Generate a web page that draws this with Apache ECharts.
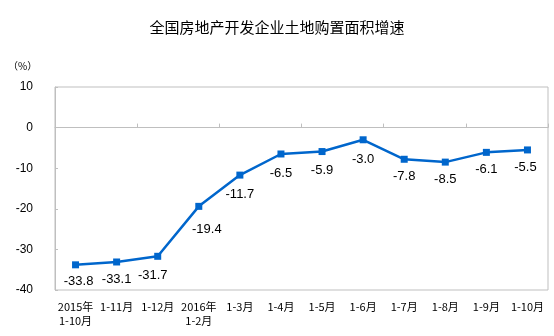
<!DOCTYPE html>
<html>
<head>
<meta charset="utf-8">
<script src="https://cdn.jsdelivr.net/npm/echarts@6/dist/echarts.min.js"></script>
<style>
  html, body { margin: 0; padding: 0; background: #fff; }
  #chart { width: 554px; height: 336px; }
</style>
</head>
<body>
<div id="chart"></div>
<script>
// Periods (cumulative months) and land purchase area growth rate, %
var categories = ['2015年\n1-10月', '1-11月', '1-12月', '2016年\n1-2月', '1-3月', '1-4月',
                  '1-5月', '1-6月', '1-7月', '1-8月', '1-9月', '1-10月'];
var growth = [-33.8, -33.1, -31.7, -19.4, -11.7, -6.5, -5.9, -3.0, -7.8, -8.5, -6.1, -5.5];
var yTicks = { min: -40, max: 10, interval: 10 };

// small nudges [dx, dy] for individual value labels
var labelNudge = [[3, 0], [0, 0], [-5, 2], [8, 6], [0, 2], [0, 2],
                  [0, 2], [0, 3], [0, 0], [0, 0], [0, 0], [-2, 0]];

var chart = echarts.init(document.getElementById('chart'));
var latin = '"Liberation Sans", Arial, "Noto Sans CJK SC", sans-serif';
var cjk = '"Noto Sans CJK SC", "Liberation Sans", sans-serif';

var seriesData = growth.map(function (v, i) {
  return { value: v, label: { offset: labelNudge[i] } };
});

chart.setOption({
  animation: false,
  title: {
    text: '全国房地产开发企业土地购置面积增速',
    left: 'center',
    top: 15,
    textStyle: { fontFamily: cjk, fontSize: 15, fontWeight: 'normal', color: '#000' }
  },
  graphic: [{
    type: 'text',
    left: 8,
    top: 61,
    style: { text: '（%）', font: '10px ' + cjk, fill: '#000' }
  }],
  grid: {
    left: 55, right: 6, top: 87, bottom: 46,
    show: true, borderColor: '#bfbfbf', borderWidth: 1
  },
  xAxis: [{
    type: 'category',
    data: categories,
    position: 'bottom',
    boundaryGap: true,
    axisLine: { show: false, onZero: false },
    axisTick: { show: false },
    axisLabel: {
      interval: 0, margin: 10, color: '#000',
      fontFamily: cjk, fontSize: 11, lineHeight: 14
    }
  }, {
    // zero line with category separators
    type: 'category',
    data: categories,
    position: 'bottom',
    boundaryGap: true,
    axisLine: { show: true, onZero: true, lineStyle: { color: '#bfbfbf', width: 1 } },
    axisTick: { show: true, inside: true, length: 4, lineStyle: { color: '#bfbfbf' } },
    axisLabel: { show: false }
  }],
  yAxis: {
    type: 'value',
    min: yTicks.min, max: yTicks.max, interval: yTicks.interval,
    axisLine: { show: true, lineStyle: { color: '#bfbfbf' } },
    axisTick: { show: true, inside: true, length: 3, lineStyle: { color: '#bfbfbf' } },
    splitLine: { show: false },
    axisLabel: { color: '#000', fontFamily: latin, fontSize: 12, margin: 22 }
  },
  series: [{
    type: 'line',
    xAxisIndex: 0,
    data: seriesData,
    symbol: 'rect',
    symbolSize: 7,
    lineStyle: { color: '#0066cc', width: 2.5 },
    itemStyle: { color: '#0066cc' },
    label: {
      show: true,
      position: 'bottom',
      distance: 7,
      color: '#000',
      fontFamily: latin,
      fontSize: 13,
      formatter: function (p) { return p.value.toFixed(1); }
    }
  }]
});
</script>
</body>
</html>
